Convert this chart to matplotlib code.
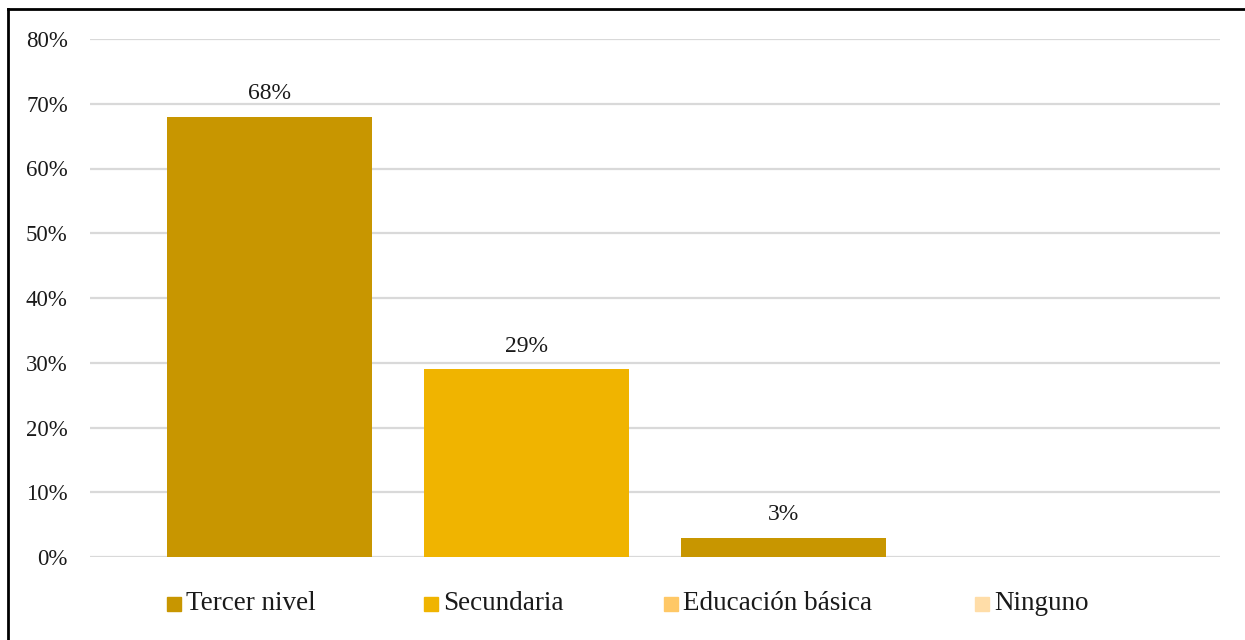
import matplotlib
matplotlib.use("Agg")
import matplotlib.pyplot as plt
from matplotlib.patches import Rectangle
from matplotlib.lines import Line2D
from matplotlib.ticker import FuncFormatter

# Nivel de instrucción
series = ["Tercer nivel", "Secundaria", "Educación básica", "Ninguno"]
values = [0.68, 0.29, 0.03, 0.0]
bar_colors = ["#C89600", "#F0B400", "#C89600", "#FFDDA8"]
legend_colors = ["#C89600", "#F0B400", "#FFC866", "#FFDDA8"]
yticks = [0.0, 0.1, 0.2, 0.3, 0.4, 0.5, 0.6, 0.7, 0.8]

W, H = 1245, 640
fig = plt.figure(figsize=(W / 100, H / 100), dpi=100)
plt.rcParams["font.family"] = ["Liberation Serif", "DejaVu Serif"]

ax = fig.add_axes([90 / W, 1 - 557 / H, (1220 - 90) / W, (557 - 39) / H])

step = 1.25
xs = [i * step for i in range(len(series))]
ax.bar(xs, values, width=1.0, color=bar_colors, zorder=3)
for x, v in zip(xs, values):
    if v > 0:
        ax.annotate(f"{v:.0%}", (x, v), xytext=(0, 9), textcoords="offset points",
                    ha="center", va="bottom", fontsize=17, color="#1a1a1a")

ax.set_xlim(-0.874, xs[-1] + 0.5 + 0.374)
ax.set_ylim(0, 0.8)
ax.set_yticks(yticks)
ax.yaxis.set_major_formatter(FuncFormatter(lambda v, _: f"{v:.0%}"))
ax.tick_params(axis="y", length=0, pad=16, labelsize=16.5, labelcolor="#1a1a1a")
ax.set_xticks([])
ax.grid(axis="y", color="#D9D9D9", linewidth=1.6, zorder=0)
for s in ax.spines.values():
    s.set_visible(False)

# Legend entries placed along the bottom
legend_x = [167, 424, 664, 975]
for x0, name, col in zip(legend_x, series, legend_colors):
    fig.patches.append(Rectangle((x0 / W, 1 - 611 / H), 14 / W, 14 / H,
                                 transform=fig.transFigure, color=col))
    fig.text((x0 + 19) / W, 1 - 604 / H, name, fontsize=19.5, va="center",
             ha="left", color="#1a1a1a")

# Outer frame
fig.add_artist(Line2D([8 / W, 8 / W], [0, 1 - 9 / H], transform=fig.transFigure,
                      color="black", linewidth=2))
fig.add_artist(Line2D([8 / W, 1], [1 - 9 / H, 1 - 9 / H], transform=fig.transFigure,
                      color="black", linewidth=2))

fig.savefig("out.png", dpi=100)
